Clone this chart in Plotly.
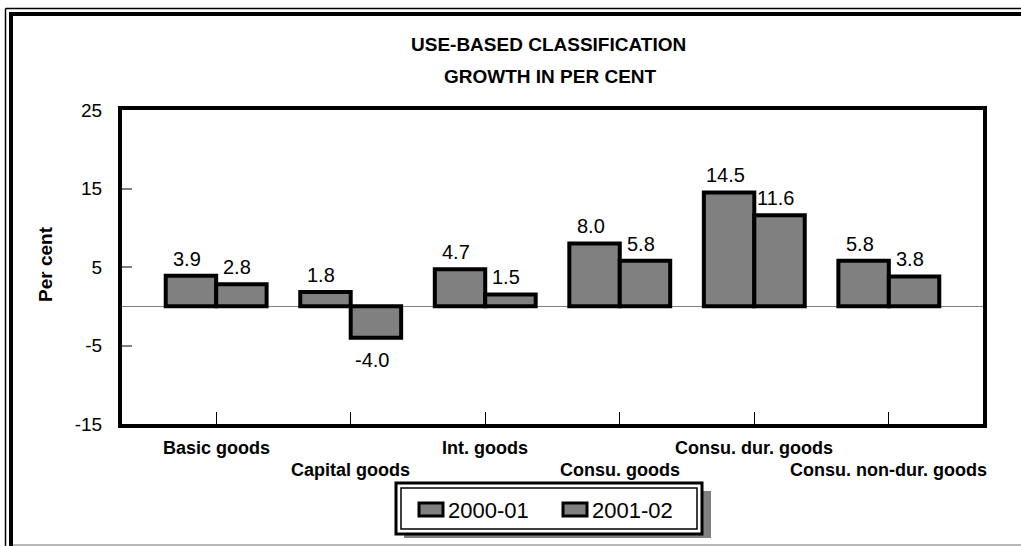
import plotly.graph_objects as go

# Use-based classification: annual growth in per cent
categories = ["Basic goods", "Capital goods", "Int. goods",
              "Consu. goods", "Consu. dur. goods", "Consu. non-dur. goods"]
series_names = ["2000-01", "2001-02"]
growth_2000_01 = [3.9, 1.8, 4.7, 8.0, 14.5, 5.8]
growth_2001_02 = [2.8, -4.0, 1.5, 5.8, 11.6, 3.8]
y_ticks = [-15, -5, 5, 15, 25]
y_tick_text = ["-15", "-5", "5", "15", "25"]

W_PX, H_PX = 1021, 546
L, T, R, B = 122, 110, 983, 424
PW, PH = R - L, B - T


def fx(x):
    """pixel column -> paper x"""
    return (x - L) / PW


def fy(y):
    """pixel row -> paper y"""
    return (B - y) / PH


FONT = "Liberation Sans, Arial, sans-serif"
BAR_FILL = "#808080"

x_pos = list(range(len(categories)))
fig = go.Figure()
for name, vals in zip(series_names, [growth_2000_01, growth_2001_02]):
    fig.add_trace(go.Bar(
        x=x_pos, y=vals, name=name,
        marker=dict(color=BAR_FILL, line=dict(color="black", width=4)),
        showlegend=False, hoverinfo="x+y",
    ))

annotations = []
shapes = []

# value labels above (or below) each bar
offsets = [-0.1875, 0.1875]
for k, vals in enumerate([growth_2000_01, growth_2001_02]):
    for i, v in enumerate(vals):
        pos = v >= 0
        annotations.append(dict(
            x=i + offsets[k], y=v, xref="x", yref="y",
            text=f"{v:.1f}", showarrow=False,
            xanchor="center", yanchor="bottom" if pos else "top",
            yshift=4 if pos else -9, xshift=-4,
            font=dict(family=FONT, size=20, color="black"),
        ))

# staggered category labels
for i, c in enumerate(categories):
    annotations.append(dict(
        x=i, y=fy(448 if i % 2 == 0 else 470), xref="x", yref="paper",
        text=f"<b>{c}</b>", showarrow=False,
        xanchor="center", yanchor="middle",
        font=dict(family=FONT, size=18, color="black"),
    ))

# titles
annotations.append(dict(
    x=fx(548), y=fy(45), xref="paper", yref="paper",
    text="<b>USE-BASED CLASSIFICATION</b>", showarrow=False,
    xanchor="center", yanchor="middle",
    font=dict(family=FONT, size=19, color="black"),
))
annotations.append(dict(
    x=fx(550), y=fy(77), xref="paper", yref="paper",
    text="<b>GROWTH IN PER CENT</b>", showarrow=False,
    xanchor="center", yanchor="middle",
    font=dict(family=FONT, size=19, color="black"),
))

# outer frame
shapes += [
    dict(type="line", xref="paper", yref="paper", x0=fx(5.5), x1=fx(5.5),
         y0=fy(8.5), y1=fy(546), line=dict(color="black", width=1.5)),
    dict(type="line", xref="paper", yref="paper", x0=fx(5.5), x1=fx(1021),
         y0=fy(8.5), y1=fy(8.5), line=dict(color="black", width=1.5)),
    dict(type="line", xref="paper", yref="paper", x0=fx(11), x1=fx(11),
         y0=fy(12), y1=fy(546), line=dict(color="black", width=4)),
    dict(type="line", xref="paper", yref="paper", x0=fx(9), x1=fx(1021),
         y0=fy(14), y1=fy(14), line=dict(color="black", width=4)),
    dict(type="line", xref="paper", yref="paper", x0=fx(13), x1=fx(1021),
         y0=fy(545), y1=fy(545), line=dict(color="#a0a0a0", width=1.5)),
]

# legend box with double border and drop shadow
lx0, ly0, lx1, ly1 = 396, 483, 702, 534
shapes += [
    dict(type="rect", xref="paper", yref="paper",
         x0=fx(lx0 + 8), x1=fx(lx1 + 9), y0=fy(ly0 + 8), y1=fy(ly1 + 4),
         fillcolor="#808080", line=dict(width=0)),
    dict(type="rect", xref="paper", yref="paper",
         x0=fx(lx0), x1=fx(lx1), y0=fy(ly0), y1=fy(ly1),
         fillcolor="white", line=dict(color="black", width=3)),
    dict(type="rect", xref="paper", yref="paper",
         x0=fx(lx0 + 5), x1=fx(lx1 - 5), y0=fy(ly0 + 5), y1=fy(ly1 - 5),
         fillcolor="white", line=dict(color="black", width=1.5)),
]
for sx, name in zip([419, 563], series_names):
    shapes.append(dict(
        type="rect", xref="paper", yref="paper",
        x0=fx(sx), x1=fx(sx + 24), y0=fy(503), y1=fy(516),
        fillcolor=BAR_FILL, line=dict(color="black", width=3),
    ))
    annotations.append(dict(
        x=fx(sx + 27), y=fy(510), xref="paper", yref="paper",
        text=name, showarrow=False, xanchor="left", yanchor="middle",
        font=dict(family=FONT, size=22, color="black"),
    ))

# y-axis title
annotations.append(dict(
    x=fx(45), y=fy(264), xref="paper", yref="paper",
    text="<b>Per cent</b>", showarrow=False, textangle=-90,
    xanchor="center", yanchor="middle",
    font=dict(family=FONT, size=19, color="black"),
))

fig.update_layout(
    width=W_PX, height=H_PX,
    margin=dict(l=L, r=W_PX - R, t=T, b=H_PX - B, pad=0),
    paper_bgcolor="white", plot_bgcolor="white",
    barmode="group", bargap=0.25, bargroupgap=0,
    annotations=annotations, shapes=shapes,
    xaxis=dict(
        range=[-0.7, 5.7], tickvals=x_pos, showticklabels=False,
        ticks="inside", ticklen=12, tickcolor="black", tickwidth=1,
        showline=True, linecolor="black", linewidth=4, mirror=True,
        showgrid=False, zeroline=False, fixedrange=True,
    ),
    yaxis=dict(
        range=[-15, 25], tickvals=y_ticks, ticktext=y_tick_text,
        ticks="inside", ticklen=10, tickcolor="#808080", tickwidth=1.5,
        tickfont=dict(family=FONT, size=19, color="black"),
        ticklabelstandoff=12,
        showline=True, linecolor="black", linewidth=4, mirror=True,
        showgrid=False, zeroline=True, zerolinecolor="#808080",
        zerolinewidth=1.2, fixedrange=True,
    ),
)

fig.write_html("out.html")
